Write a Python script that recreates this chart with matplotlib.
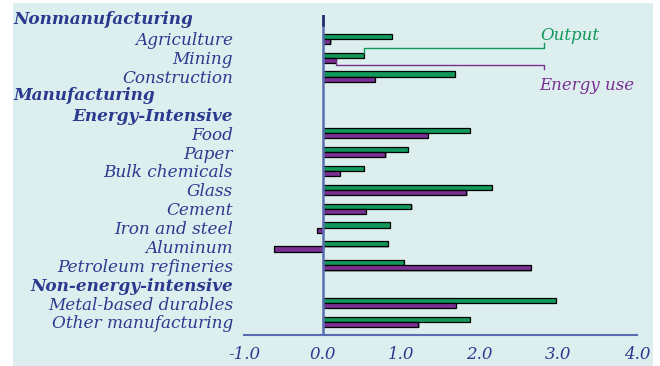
import matplotlib.pyplot as plt
from matplotlib.patches import Rectangle

# rows from top to bottom, headers have no bars
rows = ["Nonmanufacturing", "Agriculture", "Mining", "Construction",
        "Manufacturing", "Energy-Intensive", "Food", "Paper",
        "Bulk chemicals", "Glass", "Cement", "Iron and steel", "Aluminum",
        "Petroleum refineries", "Non-energy-intensive",
        "Metal-based durables", "Other manufacturing"]
left_headers = ["Nonmanufacturing", "Manufacturing"]
right_headers = ["Energy-Intensive", "Non-energy-intensive"]

sectors = ["Agriculture", "Mining", "Construction", "Food", "Paper",
           "Bulk chemicals", "Glass", "Cement", "Iron and steel", "Aluminum",
           "Petroleum refineries", "Metal-based durables", "Other manufacturing"]
output = [0.88, 0.53, 1.68, 1.87, 1.09, 0.53, 2.15, 1.13, 0.86, 0.83, 1.03, 2.97, 1.87]
energy = [0.10, 0.17, 0.67, 1.34, 0.80, 0.22, 1.83, 0.55, -0.07, -0.62, 2.65, 1.70, 1.22]

xticks = [-1.0, 0.0, 1.0, 2.0, 3.0, 4.0]

navy = "#2b3a8f"
axis_blue = "#5a6db3"
green = "#11985a"
purple = "#7a2f92"
bg = "#dceeee"
lab_size = 12.2

fig = plt.figure(figsize=(6.6, 3.66), dpi=100, facecolor="white")
fig.patches.append(Rectangle((13 / 660, 0), 640 / 660, 363 / 366,
                             transform=fig.transFigure, facecolor=bg,
                             edgecolor="none", zorder=-1))

ax = fig.add_axes([244 / 660, 31 / 366, 393 / 660, 320 / 366])
ax.set_facecolor("none")

ypos = {name: i for i, name in enumerate(rows)}
h = 0.27
ys = [ypos[s] for s in sectors]
# faint shadow behind the bars
ax.barh([y - h / 2 + 0.06 for y in ys], output, height=h, left=0.015,
        color="#9aa5a5", zorder=2)
ax.barh([y + h / 2 + 0.06 for y in ys], energy, height=h, left=0.015,
        color="#9aa5a5", zorder=2)
ax.barh([y - h / 2 for y in ys], output, height=h, color=green,
        edgecolor="black", linewidth=0.9, zorder=3)
ax.barh([y + h / 2 for y in ys], energy, height=h, color=purple,
        edgecolor="black", linewidth=0.9, zorder=3)

ax.set_xlim(-1, 4)
ax.set_ylim(16.69, -0.26)

# zero line
ax.axvline(0, color=axis_blue, linewidth=1.8, zorder=4)
ax.plot([0, 0], [-0.26, 0.25], color="#1f2a6e", linewidth=1.8, zorder=5)

for s in ["left", "right", "top"]:
    ax.spines[s].set_visible(False)
ax.spines["bottom"].set_color(axis_blue)
ax.spines["bottom"].set_linewidth(1.5)

ax.set_xticks(xticks)
ax.set_xticklabels([f"{t:.1f}" for t in xticks], fontfamily="DejaVu Serif",
                   fontstyle="italic", fontsize=12, color=navy)
ax.tick_params(axis="x", length=0, pad=8)

ax.set_yticks(range(len(rows)))
ax.set_yticklabels(["" if r in left_headers else r for r in rows],
                   fontfamily="DejaVu Serif", fontstyle="italic",
                   fontsize=lab_size, color=navy)
for lab in ax.get_yticklabels():
    if lab.get_text() in right_headers:
        lab.set_fontweight("bold")
ax.tick_params(axis="y", length=0, pad=8)

for r in left_headers:
    ax.text(-1.0 - 231 / 78.6, ypos[r], r, fontfamily="DejaVu Serif",
            fontstyle="italic", fontweight="bold", fontsize=lab_size,
            color=navy, ha="left", va="center", clip_on=False)

# legend callouts
mi = sectors.index("Mining")
xr = 2.82
ax.plot([output[mi], output[mi], xr, xr], [1.75, 1.48, 1.48, 1.22],
        color=green, linewidth=1.0, zorder=4)
ax.plot([energy[mi], energy[mi], xr, xr], [2.12, 2.38, 2.38, 2.62],
        color=purple, linewidth=1.0, zorder=4)
ax.text(2.77, 0.8, "Output", fontfamily="DejaVu Serif", fontstyle="italic",
        fontsize=12, color=green, ha="left", va="center")
ax.text(2.76, 3.45, "Energy use", fontfamily="DejaVu Serif", fontstyle="italic",
        fontsize=12, color=purple, ha="left", va="center")

fig.savefig("out.png", dpi=100, facecolor="white")
